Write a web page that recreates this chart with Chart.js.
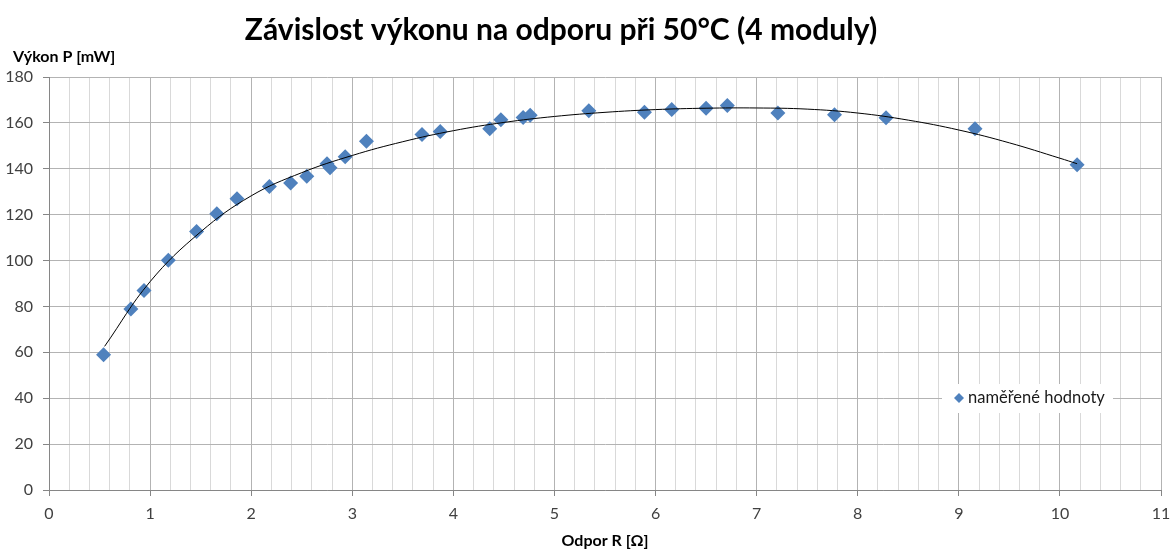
<!DOCTYPE html>
<html>
<head>
<meta charset="utf-8">
<title>Závislost výkonu na odporu</title>
<script src="https://cdn.jsdelivr.net/npm/chart.js@4"></script>
<style>
  html, body { margin: 0; padding: 0; background: #fff; }
  #wrap { width: 1172px; height: 549px; }
</style>
</head>
<body>
<div id="wrap"><canvas id="powerChart" width="1172" height="549"></canvas></div>
<script>
// measured values: resistance R [Ohm] and power P [mW]
const resistance = [0.54, 0.81, 0.94, 1.18, 1.46, 1.66, 1.86, 2.18, 2.39, 2.55, 2.75, 2.78, 2.93, 3.14,
  3.69, 3.87, 4.36, 4.47, 4.69, 4.76, 5.34, 5.89, 6.16, 6.50, 6.71, 7.21, 7.77, 8.28, 9.16, 10.17];
const power = [59.0, 78.9, 87.0, 100.1, 112.7, 120.4, 126.9, 132.3, 133.8, 136.7, 142.2, 140.4, 145.2, 152.0,
  154.9, 156.3, 157.4, 161.4, 162.4, 163.3, 165.3, 164.6, 165.8, 166.4, 167.6, 164.3, 163.5, 162.2, 157.5, 141.8];

// trendline
const trendR = [0.55, 1.0, 1.5, 2.0, 2.5, 3.0, 3.5, 4.0, 4.5, 5.0, 5.5, 6.0, 6.5, 7.0, 7.5, 8.0, 8.5, 9.0, 9.5, 10.0, 10.17];
const trendP = [62.6, 90.8, 112.5, 128.2, 138.3, 145.8, 151.8, 156.6, 160.2, 162.8, 164.6, 165.8, 166.4, 166.5,
  166.0, 164.3, 161.2, 156.9, 151.3, 144.6, 142.2];

const xTicks = { min: 0, max: 11, step: 0.2 };
const yTicks = { min: 0, max: 180, step: 20 };

const titleText = 'Závislost výkonu na odporu při 50°C (4 moduly)';
const xTitle = 'Odpor R [Ω]';
const yTitle = 'Výkon P [mW]';
const seriesLabel = 'naměřené hodnoty';

const pointColor = '#4f81bd';
const FONT = 'Lato, "Open Sans", sans-serif';

const isWhole = (v) => Math.abs(v - Math.round(v)) < 1e-6;

const measured = resistance.map((r, i) => ({ x: r, y: power[i] }));
const trend = trendR.map((r, i) => ({ x: r, y: trendP[i] }));

// titles and the legend box drawn straight onto the canvas
const decorations = {
  id: 'decorations',
  afterDraw(chart) {
    const ctx = chart.ctx;
    const area = chart.chartArea;
    ctx.save();
    ctx.fillStyle = '#000';
    ctx.textBaseline = 'middle';

    ctx.font = 'bold 30px ' + FONT;
    ctx.textAlign = 'center';
    ctx.fillText(titleText, 561, 30);

    ctx.font = 'bold 16px ' + FONT;
    ctx.textAlign = 'left';
    ctx.fillText(yTitle, 13, 57);

    ctx.textAlign = 'center';
    ctx.fillText(xTitle, (area.left + area.right) / 2, 541);

    // legend
    ctx.fillStyle = '#fff';
    ctx.fillRect(942, 384, 171, 29);
    ctx.fillStyle = pointColor;
    ctx.beginPath();
    ctx.moveTo(959, 393);
    ctx.lineTo(964, 398);
    ctx.lineTo(959, 403);
    ctx.lineTo(954, 398);
    ctx.closePath();
    ctx.fill();
    ctx.fillStyle = '#1a1a1a';
    ctx.font = '16.5px ' + FONT;
    ctx.textAlign = 'left';
    ctx.fillText(seriesLabel, 968, 398);
    ctx.restore();
  }
};

new Chart(document.getElementById('powerChart'), {
  type: 'scatter',
  data: {
    datasets: [
      {
        label: 'trend',
        data: trend,
        showLine: true,
        borderColor: '#000',
        borderWidth: 1,
        pointRadius: 0,
        tension: 0.4,
        fill: false
      },
      {
        label: seriesLabel,
        data: measured,
        pointStyle: 'rectRot',
        pointRadius: 7.5,
        pointBackgroundColor: pointColor,
        pointBorderColor: pointColor,
        pointBorderWidth: 0,
        showLine: false
      }
    ]
  },
  options: {
    responsive: false,
    animation: false,
    layout: { autoPadding: false, padding: { top: 77, right: 11, bottom: 0, left: 0 } },
    plugins: {
      legend: { display: false },
      title: { display: false },
      tooltip: { enabled: false }
    },
    scales: {
      x: {
        type: 'linear',
        min: xTicks.min,
        max: xTicks.max,
        afterFit(scale) {
          scale.height = 59;
          scale.paddingLeft = 0;
          scale.paddingRight = 0;
        },
        border: { color: '#868686' },
        grid: {
          color: (c) => isWhole(c.tick.value) ? '#b3b3b3' : '#d9d9d9',
          tickColor: (c) => isWhole(c.tick.value) ? '#868686' : 'rgba(0,0,0,0)',
          tickLength: 6
        },
        ticks: {
          stepSize: xTicks.step,
          autoSkip: false,
          maxRotation: 0,
          padding: 8,
          color: '#404040',
          font: { family: FONT, size: 16 },
          callback: (v) => isWhole(v) ? String(Math.round(v)) : ''
        }
      },
      y: {
        type: 'linear',
        min: yTicks.min,
        max: yTicks.max,
        afterFit(scale) { scale.width = 49; },
        border: { color: '#868686' },
        grid: { color: '#b3b3b3', tickColor: '#868686', tickLength: 6 },
        ticks: {
          stepSize: yTicks.step,
          padding: 10,
          color: '#404040',
          font: { family: FONT, size: 16 }
        }
      }
    }
  },
  plugins: [decorations]
});
</script>
</body>
</html>
